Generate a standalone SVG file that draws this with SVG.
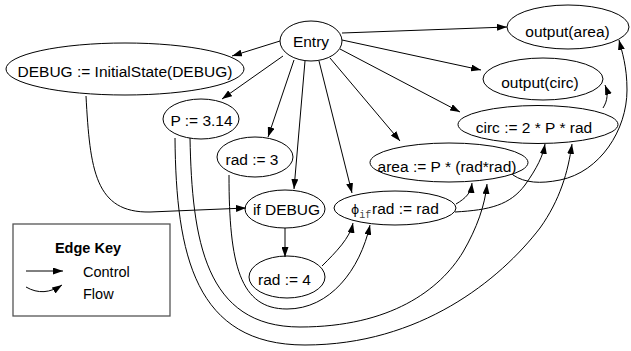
<svg xmlns="http://www.w3.org/2000/svg" width="631" height="351" viewBox="0 0 631 351">
<style>
.n ellipse{fill:none;stroke:#000;stroke-width:1}
text{font-family:"Liberation Sans",Arial,sans-serif;font-size:15.5px;fill:#000}
.t{text-anchor:middle}
.e path,.e line{fill:none;stroke:#000;stroke-width:1;marker-end:url(#ah)}
</style>
<defs>
<marker id="ah" markerWidth="10" markerHeight="7" refX="10" refY="3.5" orient="auto" markerUnits="userSpaceOnUse">
<path d="M0,0 L10,3.5 L0,7 z" fill="#000"/>
</marker>
</defs>
<rect width="631" height="351" fill="#fff"/>
<g id="edges" class="e">
<line x1="280" y1="41" x2="232" y2="56"/>
<line x1="283" y1="56" x2="222" y2="99"/>
<line x1="294" y1="60" x2="268" y2="137"/>
<line x1="305" y1="61" x2="294" y2="189"/>
<line x1="319" y1="61" x2="352" y2="193"/>
<line x1="330" y1="58" x2="400" y2="141"/>
<line x1="340" y1="49" x2="460" y2="112"/>
<line x1="342" y1="40" x2="481" y2="70"/>
<line x1="342" y1="33" x2="507" y2="27"/>
<line x1="285" y1="228" x2="285" y2="257"/>
<path d="M86,96 C90,170 95,213 150,212 L246,208"/>
<path d="M175,138 C176,255 195,345 305,345 C420,345 500,280 540,228 C560,200 568,172 572,144"/>
<path d="M190,138 C192,240 205,327 300,327 C390,327 440,290 463,252 C477,228 485,205 487,184"/>
<path d="M229,175 C229,265 240,309 287,309 C330,309 360,270 370,225"/>
<path d="M322,266 C336,252 350,238 353,223"/>
<path d="M456,204 C466,198 471,193 472,183"/>
<path d="M455,212 C490,210 510,205 525,185 C537,168 543,156 545,144"/>
<path d="M513,175 C525,183 540,184 560,180 C600,172 627,130 627,90 C627,66 622,52 619,40"/>
<path d="M603,108 C608,100 608,93 605,85"/>
</g>
<g id="entry" class="n"><ellipse cx="311" cy="41" rx="31" ry="20"/><text class="t" x="311" y="47">Entry</text></g>
<g id="debug_init" class="n"><ellipse cx="125" cy="69" rx="119" ry="26"/><text class="t" x="125" y="77">DEBUG := InitialState(DEBUG)</text></g>
<g id="p_assign" class="n"><ellipse cx="201" cy="119" rx="38" ry="20"/><text class="t" x="201.5" y="126">P := 3.14</text></g>
<g id="rad3" class="n"><ellipse cx="255" cy="157" rx="38" ry="20"/><text class="t" x="252" y="165">rad := 3</text></g>
<g id="if_debug" class="n"><ellipse cx="285" cy="209" rx="40" ry="19"/><text class="t" x="286.5" y="215">if DEBUG</text></g>
<g id="rad4" class="n"><ellipse cx="287" cy="277" rx="38" ry="21"/><text class="t" x="284.5" y="285">rad := 4</text></g>
<g id="phi" class="n"><ellipse cx="395" cy="208" rx="61" ry="17"/><text x="351" y="214" style="font-family:'DejaVu Sans',sans-serif;font-size:12.5px">ϕ<tspan dy="4" style="font-family:'Liberation Mono',monospace;font-size:10px;fill:#444">if</tspan></text><text x="372" y="214">rad := rad</text></g>
<g id="area" class="n"><ellipse cx="449" cy="162.5" rx="79" ry="19.5"/><text class="t" x="447" y="172">area := P * (rad*rad)</text></g>
<g id="circ" class="n"><ellipse cx="538" cy="124.5" rx="80" ry="19"/><text class="t" x="534" y="133">circ := 2 * P * rad</text></g>
<g id="output_circ" class="n"><ellipse cx="543" cy="79" rx="60" ry="21"/><text class="t" x="540" y="88">output(circ)</text></g>
<g id="output_area" class="n"><ellipse cx="568" cy="27" rx="61" ry="22"/><text class="t" x="567.5" y="37">output(area)</text></g>
<g id="legend">
<rect x="13" y="224" width="157" height="92" fill="none" stroke="#555" stroke-width="1.3"/>
<text class="t" x="88" y="253" style="font-weight:bold;font-size:14.5px">Edge Key</text>
<text x="83" y="277" style="font-size:14.5px">Control</text>
<text x="83" y="299" style="font-size:14.5px">Flow</text>
<g class="e"><line x1="26" y1="271" x2="63" y2="271"/><path d="M26,287 C38,294 50,293 62,285"/></g>
</g>
</svg>
